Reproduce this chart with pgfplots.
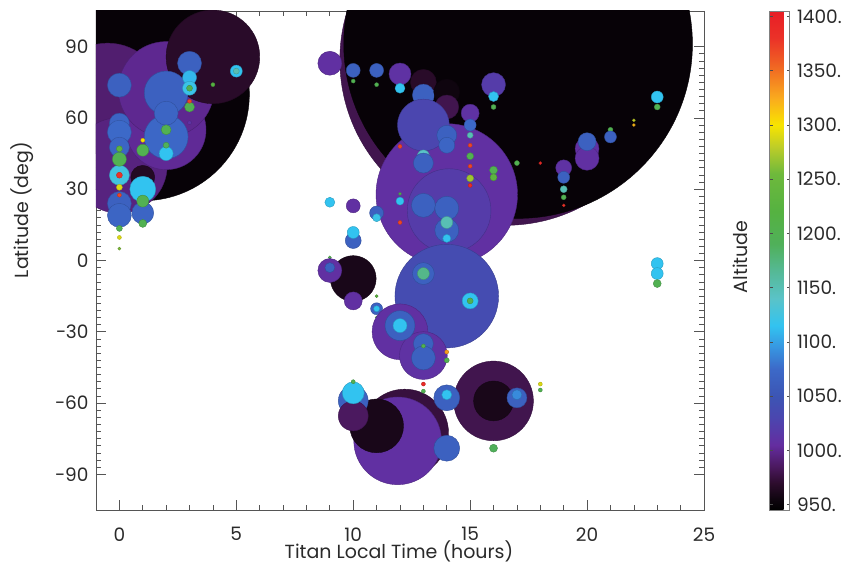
\documentclass[border=0pt]{standalone}
\usepackage{fontspec}
\setmainfont{Poppins}
\usepackage{pgfplots}
\usepackage{pgfplotstable}
\pgfplotsset{compat=1.18}
\definecolor{txt}{HTML}{2A2A2A}
\definecolor{axl}{HTML}{555555}

\pgfplotstableread{
x y alt r
16.5 84.4 980 166
17.05 91.1 950 175
1 70 950 107
-0.5 68 990 56
0 40 995 48
2 55 1002 40
2 72 1000 48
4 85.7 968 47
1 35 965 12
2 70.5 1065 22
2 52 1072 22
0 73.8 1065 12
3 83 1065 12
2 62 1070 12
0 57.8 1070 10
0 54 1075 12
0 47.7 1070 10
0 24 1065 12
0 19 1070 12
1 20 1070 11
1 30 1115 13
0 35.9 1125 10
1 46.4 1200 6
1 25 1200 6
0 42.6 1200 7
3 77 1110 7
3 72.5 1120 7
5 79.7 1115 6
2 45 1115 7
2 55 1200 5
2 48.5 1190 3
3 64.6 1200 5
3 72.5 1200 3
5 79.7 1150 3
3 67 1370 2
3 58 1010 2
4 74 1220 2
1 50.6 1300 2
1 15.6 1200 4
0 47 1230 3
0 35.9 1380 3
0 30.8 1290 3
0 27.5 1370 2
0 13.5 1200 3
0 9.7 1290 2
0 5 1260 1.5
14 27.8 1008 71
14.1 21 1020 42
9 83 1008 12
10 80 1065 7
10 75.5 1200 2
11 80 1065 7
11 74 1200 2
12 78.5 1010 11
12 72.5 1115 5
13 75 968 13
13 69.6 1065 11
14 70.9 955 13
14 64.6 980 12
13 57 1030 26
14 52.7 1065 10
14 48.5 1070 8
15 62 1010 9
15 57 1075 6
15 52.7 1150 3
15 48.5 1370 2
15 43.9 1200 3.5
15 39.7 1370 2
15 34.6 1270 3.5
15 31.6 1390 2
16 74 1020 12
16 69 1115 5
16 64.6 1200 2.5
16 38 1200 4
16 35 1230 3.5
17 41 1200 2.5
18 41 1390 1.5
12 48 1370 2
19 39 1010 8
19 35 1065 6
19 30 1150 3.5
19 26.6 1200 2.5
19 23.2 1380 1.5
20 47 1008 12
20 43 1008 12
20 50 1065 9
21 55 1200 2.5
21 52 1065 6
22 59 1280 1.5
22 57 1320 1.5
23 68.8 1115 6
23 64.6 1200 3
13 44 1140 6
13 41 1065 10
13 23.2 1065 12
14 22 1065 12
14 12.7 1065 12
14 16 1150 6
14 9.3 1115 4
12 25 1115 4
12 28 1200 1.5
12 16 1370 2
9 24.5 1115 5
10 23 1008 7
11 20 1065 7
11 18 1120 4
10 8.4 1065 8
10 11.8 1115 6
9 1.3 1200 1.5
14 -15 1038 52
10 -7.6 960 23
9 -4.2 1008 12
9 -3 1065 5
10 -17 1008 9
11 -20.3 1065 6
11 -20.3 1115 3
11 -15 1230 1.5
11 -24 1200 1.5
12 -30 1008 28
13 -40 1010 24
12 -27.4 1065 15
12 -27.4 1115 7
13 -35 1065 10
13 -41 1065 12
13 -36 1200 2
14 -42 1200 2.5
14 -38.5 1330 2
13 -5.5 1065 11
13 -5.5 1170 6
15 -17 1115 8
15 -17 1200 3
12.2 -72.6 975 44
11.9 -75.9 1008 44
11 -69.6 960 27
14 -79 1065 13
10 -59 1065 15
10 -65.4 985 15
10 -55.7 1115 11
10 -51 1200 2
16 -59.1 980 40
16 -59.1 960 20
17 -57.8 1065 10
17 -56.5 1090 5
14 -57.8 1065 13
14 -56.5 1115 5
16 -79 1190 4
13 -52 1390 2
13 -55 1200 2
18 -52 1290 2
18 -54.5 1200 2
23 -1.3 1115 6
23 -5.5 1115 6
23 -9.7 1200 4
}\bubbles

\begin{document}
\fontsize{19bp}{22bp}\selectfont
\begin{tikzpicture}
\path[use as bounding box] (-96bp,-54bp) rectangle (753bp,510bp);
\begin{axis}[
  scale only axis, width=608bp, height=499bp,
  at={(0,0)}, anchor=south west,
  xmin=-1, xmax=25, ymin=-105, ymax=105,
  xtick={0,5,...,25}, ytick={-90,-60,...,90},
  yticklabels={−90,−60,−30,0,30,60,90},
  minor x tick num=4, minor y tick num=9,
  tick align=inside,
  major tick length=10bp, minor tick length=5bp,
  axis line style={draw=axl, line width=0.8pt},
  every tick/.style={draw=axl, line width=0.7pt},
  /pgf/number format/assume math mode=true,
  tick label style={font=\fontsize{18.5bp}{22bp}\selectfont, text=txt},
  yticklabel style={xshift=-1bp},
  xticklabel style={yshift=-11bp},
  clip marker paths=true,
  colormap={titan}{rgb255(945)=(0,0,0) rgb255(955)=(15,5,15) rgb255(970)=(45,12,45) rgb255(985)=(75,25,95) rgb255(1005)=(100,45,160) rgb255(1030)=(75,70,175) rgb255(1050)=(60,85,180) rgb255(1075)=(60,105,200) rgb255(1095)=(55,150,225) rgb255(1115)=(50,195,240) rgb255(1140)=(90,195,200) rgb255(1165)=(85,185,150) rgb255(1190)=(80,176,90) rgb255(1220)=(85,178,65) rgb255(1255)=(110,185,60) rgb255(1280)=(190,205,40) rgb255(1300)=(248,228,0) rgb255(1325)=(250,170,30) rgb255(1355)=(240,100,35) rgb255(1380)=(235,50,40) rgb255(1405)=(232,30,38)},
  point meta min=945, point meta max=1405,
  colorbar,
  colorbar style={
    at={(parent axis.north east)}, anchor=north west, xshift=57bp,
    scale only axis, width=20bp, height=499bp,
    ytick={950,1000,...,1400},
    yticklabels={950.,1000.,1050.,1100.,1150.,1200.,1250.,1300.,1350.,1400.},
    yticklabel style={font=\fontsize{18.5bp}{22bp}\selectfont, text=txt, xshift=1bp},
    tick align=inside, major tick length=3bp,
    every tick/.style={draw=black!70, line width=0.6pt},
    axis line style={draw=black!50, line width=0.5pt},
  },
]
\addplot[scatter, only marks, mark=*, scatter src=explicit,
  visualization depends on={\thisrow{r} \as \rr},
  scatter/@pre marker code/.append style={/tikz/mark size=\rr}]
  table[x=x, y=y, meta=alt] {\bubbles};
\end{axis}
\node[text=txt] at (303bp,-41bp) {\fontsize{19bp}{22bp}\selectfont Titan Local Time (hours)};
\node[text=txt, rotate=90] at (-74bp,300bp) {\fontsize{19bp}{22bp}\selectfont Latitude (deg)};
\node[text=txt, rotate=90] at (644bp,253bp) {\fontsize{19bp}{22bp}\selectfont Altitude};
\end{tikzpicture}
\end{document}
